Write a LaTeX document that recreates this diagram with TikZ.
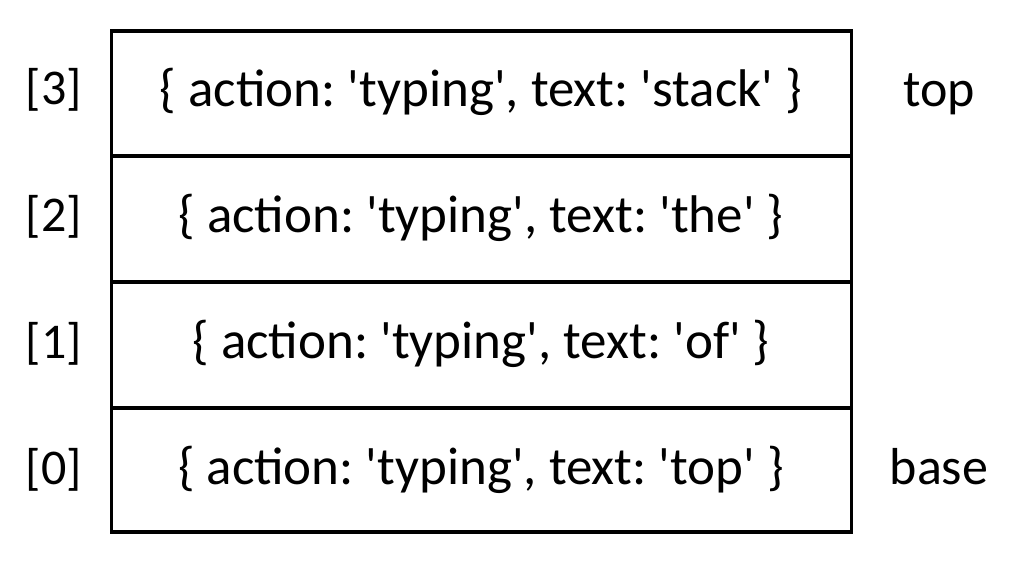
\documentclass[tikz,border=0pt]{standalone}
\usepackage{fontspec}
\setmainfont{Carlito}[Ligatures=TeXOff]
\frenchspacing
\begin{document}
\begin{tikzpicture}[x=1pt,y=-1pt,
  frame/.style={line width=3.5pt, line join=miter},
  entry/.style={anchor=base, font=\fontsize{53}{60}\selectfont, inner sep=0pt},
  idx/.style={anchor=base, font=\fontsize{50}{56}\selectfont, inner sep=0pt},
  tag/.style={anchor=base, font=\fontsize{52}{58}\selectfont, inner sep=0pt}]
\useasboundingbox (0,0) rectangle (1018,561);
% stack frame and row separators
\coordinate (tl) at (111.5,31);
\coordinate (br) at (851.5,532);
\draw[frame] (tl) rectangle (br);
\coordinate (s1l) at (111.5,156); \coordinate (s1r) at (851.5,156);
\coordinate (s2l) at (111.5,282); \coordinate (s2r) at (851.5,282);
\coordinate (s3l) at (111.5,408); \coordinate (s3r) at (851.5,408);
\draw[frame] (s1l) -- (s1r);
\draw[frame] (s2l) -- (s2r);
\draw[frame] (s3l) -- (s3r);
% stack entries
\node[entry] (e3) at (481,107) {\{ action: 'typing', text: 'stack' \}};
\node[entry] (e2) at (481,233) {\{ action: 'typing', text: 'the' \}};
\node[entry] (e1) at (481,359) {\{ action: 'typing', text: 'of' \}};
\node[entry] (e0) at (481,484) {\{ action: 'typing', text: 'top' \}};
% indices
\node[idx] (i3) at (54,105) {[3]};
\node[idx] (i2) at (54,232) {[2]};
\node[idx] (i1) at (54,359) {[1]};
\node[idx] (i0) at (54,484) {[0]};
% top / base markers
\node[tag] (ttop) at (939,107) {top};
\node[tag] (tbase) at (939,484) {base};
\end{tikzpicture}
\end{document}
